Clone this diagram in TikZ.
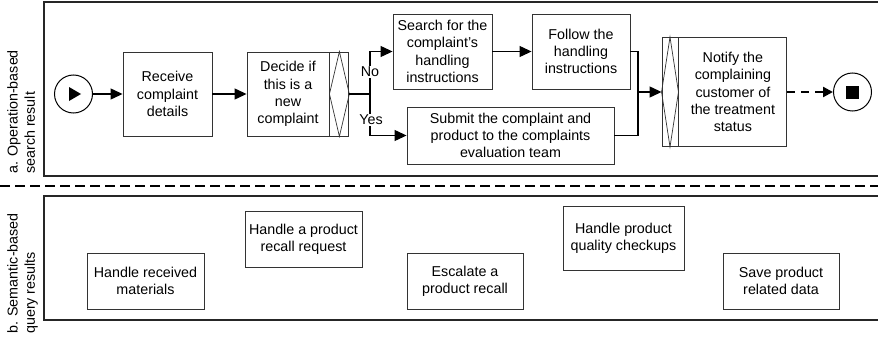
\documentclass[tikz,border=0pt]{standalone}
\usepackage{fontspec}
\setmainfont{Liberation Sans}
\usetikzlibrary{arrows.meta}
\newcommand\fsz{\fontsize{14.3}{17.3}\selectfont}
\begin{document}
\begin{tikzpicture}[x=1pt,y=-1pt,
  box/.style={draw=black!80, line width=0.9pt, fill=white, align=center, inner sep=1pt, font=\fsz},
  strip/.style={draw=black!80, line width=0.9pt, fill=white, inner sep=0pt},
  panel/.style={draw=black!85, line width=1.3pt},
  flow/.style={draw=black, line width=1.2pt, -{Triangle[length=12pt,width=11pt]}},
  plain/.style={draw=black, line width=1.2pt},
  lbl/.style={font=\fsz, fill=white, inner sep=1pt},
  lane/.style={font=\fsz, rotate=90, align=left, anchor=north west, inner sep=0pt}]
\useasboundingbox (0,0) rectangle (878,337);
% panels
\draw[panel] (44,2) rectangle (882,176);
\draw[panel] (44,196) rectangle (882,320);
\draw[black, line width=2.2pt, dash pattern=on 10pt off 5pt] (0,186) -- (878,186);
\node[lane] (la) at (7,174) {a. Operation-based\\search result};
\node[lane] (lb) at (7,334) {b. Semantic-based\\query results};
% top process
\node[circle, draw=black, line width=1pt, minimum size=38pt, inner sep=0pt] (start) at (73.5,94) {};
\fill[black] (69,87) -- (81,94) -- (69,101) -- cycle;
\node[box, minimum width=89pt, minimum height=84pt] (receive) at (167.5,94) {Receive\\complaint\\details};
\node[box, minimum width=82pt, minimum height=84pt] (decide) at (288,94) {Decide if\\this is a\\new\\complaint};
\node[strip, minimum width=19pt, minimum height=84pt, anchor=west] (dgw) at (decide.east) {};
\draw[black!80, line width=0.7pt] (dgw.north) -- (dgw.east) -- (dgw.south) -- (dgw.west) -- cycle;
\node[box, minimum width=99pt, minimum height=75pt] (search) at (442.5,51.5) {Search for the\\complaint's\\handling\\instructions};
\node[box, minimum width=98pt, minimum height=75pt] (follow) at (581,51.5) {Follow the\\handling\\instructions};
\node[box, minimum width=207pt, minimum height=57pt] (submit) at (510.5,135.5) {Submit the complaint and\\product to the complaints\\evaluation team};
\node[strip, minimum width=16pt, minimum height=109pt] (ngw) at (670,92) {};
\draw[black!80, line width=0.7pt] (ngw.north) -- (ngw.east) -- (ngw.south) -- (ngw.west) -- cycle;
\node[box, minimum width=108pt, minimum height=109pt, anchor=west] (notify) at (ngw.east) {Notify the\\complaining\\customer of\\the treatment\\status};
\node[circle, draw=black, line width=1pt, minimum size=38pt, inner sep=0pt] (end) at (852.5,92) {};
\fill[black] (846,85.5) rectangle (859,98.5);
\coordinate (split) at (370,94);
\coordinate (merge) at (638,92);
% connectors
\draw[flow] (start) -- (receive);
\draw[flow] (receive) -- (decide);
\draw[plain] (dgw.east) -- (split);
\draw[flow] (split) |- (search.west);
\draw[flow] (split) |- (submit.west);
\node[lbl] (no) at (370,72) {No};
\node[lbl] (yes) at (371,120) {Yes};
\draw[flow] (search) -- (follow);
\draw[plain] (follow.east) -| (merge);
\draw[plain] (submit.east) -| (merge);
\draw[flow] (merge) -- (ngw.west);
\draw[black, line width=2.2pt, dash pattern=on 8pt off 6pt, -{Triangle[length=10pt,width=10pt]}] (notify.east) -- (end.west);
% bottom results
\node[box, minimum width=117pt, minimum height=56pt] (r1) at (145.5,281) {Handle received\\materials};
\node[box, minimum width=117pt, minimum height=56pt] (r2) at (303.5,239) {Handle a product\\recall request};
\node[box, minimum width=116pt, minimum height=56pt] (r3) at (465,281) {Escalate a\\product recall};
\node[box, minimum width=121pt, minimum height=64pt] (r4) at (623.5,238) {Handle product\\quality checkups};
\node[box, minimum width=116pt, minimum height=56pt] (r5) at (781,281) {Save product\\related data};
\end{tikzpicture}
\end{document}
